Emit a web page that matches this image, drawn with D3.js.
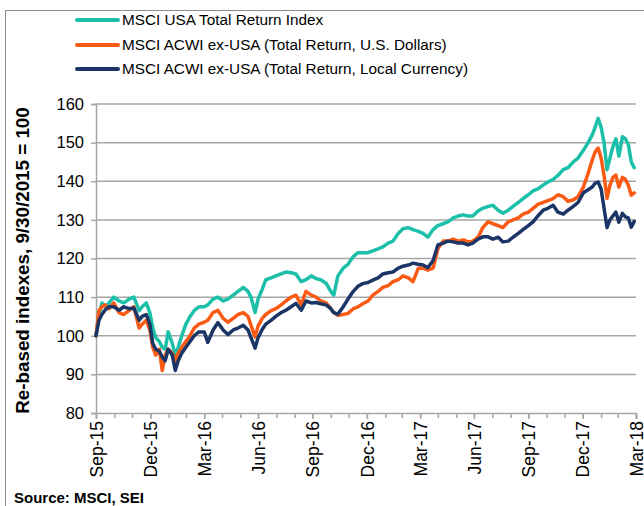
<!DOCTYPE html>
<html>
<head>
<meta charset="utf-8">
<script src="https://cdn.jsdelivr.net/npm/d3@7"></script>
<style>
  html, body { margin: 0; padding: 0; background: #fff; }
  svg { display: block; font-family: "Liberation Sans", Arial, sans-serif; }
</style>
</head>
<body>
<svg id="chart" width="644" height="506"></svg>
<script>
// ---- Data ----
const seriesNames = [
  "MSCI USA Total Return Index",
  "MSCI ACWI ex-USA (Total Return, U.S. Dollars)",
  "MSCI ACWI ex-USA (Total Return, Local Currency)"
];
const seriesColors = ["#1cbfa8", "#fa5a14", "#1b3666"];

const dates = [
"2015-09-30","2015-10-05","2015-10-10","2015-10-15","2015-10-22","2015-10-30","2015-11-08","2015-11-16","2015-11-25","2015-12-03",
"2015-12-12","2015-12-17","2015-12-24","2015-12-30","2016-01-04","2016-01-09","2016-01-15","2016-01-20","2016-01-25","2016-01-30",
"2016-02-06","2016-02-11","2016-02-16","2016-02-22","2016-02-29","2016-03-07","2016-03-14","2016-03-22","2016-03-31","2016-04-06",
"2016-04-15","2016-04-23","2016-05-02","2016-05-10","2016-05-19","2016-05-27","2016-06-05","2016-06-13","2016-06-18","2016-06-25",
"2016-06-30","2016-07-07","2016-07-13","2016-07-22","2016-07-30","2016-08-08","2016-08-16","2016-08-25","2016-09-02","2016-09-11",
"2016-09-19","2016-09-28","2016-10-06","2016-10-14","2016-10-23","2016-10-31","2016-11-05","2016-11-12","2016-11-21","2016-11-29",
"2016-12-08","2016-12-16","2016-12-24","2017-01-02","2017-01-10","2017-01-19","2017-01-27","2017-02-05","2017-02-13","2017-02-22",
"2017-03-02","2017-03-11","2017-03-19","2017-03-28","2017-04-05","2017-04-13","2017-04-22","2017-04-30","2017-05-09","2017-05-17",
"2017-05-26","2017-06-03","2017-06-12","2017-06-20","2017-06-28","2017-07-07","2017-07-15","2017-07-24","2017-08-01","2017-08-10",
"2017-08-18","2017-08-27","2017-09-04","2017-09-13","2017-09-21","2017-09-30","2017-10-08","2017-10-16","2017-10-25","2017-11-02",
"2017-11-11","2017-11-19","2017-11-28","2017-12-06","2017-12-15","2017-12-23","2018-01-01","2018-01-09","2018-01-16","2018-01-21",
"2018-01-26","2018-01-31","2018-02-05","2018-02-10","2018-02-15","2018-02-20","2018-02-25","2018-03-02","2018-03-08","2018-03-13",
"2018-03-18","2018-03-23","2018-03-28"
];

const usa = [
100,105,108.5,107.5,108.5,110,109,108.5,109.5,110,
106.5,107.5,108.5,106,102,99.5,98.5,97,96.5,101,
98,95,97,100,103,105,106.5,107.5,107.5,108,
109.5,110,109,109.5,110.5,111.5,112.5,111.5,110,106,
109.5,112,114.5,115,115.5,116,116.5,116.3,116,114,
114.5,115.5,114.8,114.5,113.6,111.5,110.5,115.5,117.5,118.5,
120.5,121.5,121.5,121.5,122,122.5,123,124,124.5,126.5,
127.7,128,127.5,127,126.5,125.5,127.5,128.5,129,129.5,
130.5,131,131.3,131,131,132.3,133,133.5,133.8,132.5,
131.7,132.5,133.5,134.5,135.5,136.5,137.5,138,139,139.8,
140.5,141.5,143,143.5,145,146,148,150,152,154,
156.3,154,150,143,146,149,151,146.5,151.5,151,
149.5,145,143.5
];

const acwiUsd = [
100,106.5,107.5,108,107,108.5,106,105.5,106.6,107.5,
102,103,104,101.5,97,95,96.5,91,95,96.5,
95.5,93.5,95.5,97,98.5,100,102,103,103.5,104,
106,106.6,104.5,103.5,104.5,105.5,106,105,102.7,99.7,
102.5,104.5,105.5,106.5,107,108,109,110,110.5,108,
111.5,110.5,110,109,108.5,107,106,105.3,105.5,105.8,
107,107.5,108.3,109,110.5,111.5,112.5,113,114,114.5,
115.5,115,114,117.5,117.5,117,117.5,122.5,124.5,124.5,
125,124.5,124.8,124.3,124.5,125.5,128,129.5,129,128.5,
128,129.5,130,130.5,131.5,132,133,134,134.5,135,
135.5,136.5,136,134.8,135.2,136,138.5,142,145.5,147.6,
148.6,146,141.5,135.6,139,141,141.6,138.5,141,140.5,
139,136.4,137
];

const acwiLocal = [
100,104,105.5,106.6,107.5,107.5,106.6,107.5,107,107.2,
104,105,105.5,103,98,96.5,96,94.5,93.5,96.5,
95,91,93.5,95.5,97,98.5,100,101,101,98.3,
101.5,103.4,101.5,100.3,101.5,102,102.7,101.5,99.5,96.8,
99.5,101.6,103,104,105,106,106.6,107.5,108.4,106.6,
109,108.5,108.6,108.3,108,107,106,105.6,107.5,109.5,
111.5,112.8,113.5,113.8,114.4,115,116,116.3,116.5,117.5,
118,118.3,118.8,118.5,118.3,117.6,119.5,123.5,124,124.5,
124.3,124,124,123.5,124,125,125.6,125.6,125,125.5,
124.3,124.5,125.5,126.5,127.5,128.5,129.5,131,132.5,133,
133.8,132,131.5,132.5,133.5,134.5,137,137.8,138.5,139.5,
139.8,138,133,128,130,131,132,129.4,131.7,130.8,
130.5,128.1,129.6
];

const yTicks = [80, 90, 100, 110, 120, 130, 140, 150, 160];
const xTickDates = ["2015-09-30","2015-12-31","2016-03-31","2016-06-30","2016-09-30","2016-12-31",
                    "2017-03-31","2017-06-30","2017-09-30","2017-12-31","2018-03-31"];
const xTickLabels = ["Sep-15","Dec-15","Mar-16","Jun-16","Sep-16","Dec-16",
                     "Mar-17","Jun-17","Sep-17","Dec-17","Mar-18"];
const yTitle = "Re-based indexes, 9/30/2015 = 100";
const sourceText = "Source: MSCI, SEI";

// ---- Drawing ----
const parse = d3.timeParse("%Y-%m-%d");
const svg = d3.select("#chart");
const plotL = 96, plotR = 636, plotT = 104, plotB = 413;

const x = d3.scaleTime()
  .domain([parse("2015-09-30"), parse("2018-03-31")])
  .range([plotL, plotR]);
const y = d3.scaleLinear().domain([80, 160]).range([plotB, plotT]);

// outer frame
svg.append("rect")
  .attr("x", 5.5).attr("y", 10.5)
  .attr("width", 660).attr("height", 520)
  .attr("fill", "none").attr("stroke", "#8c8c8c").attr("stroke-width", 1);

// gridlines
svg.append("g")
  .selectAll("line").data(yTicks.filter(v => v > 80)).join("line")
  .attr("x1", plotL).attr("x2", plotR)
  .attr("y1", d => y(d)).attr("y2", d => y(d))
  .attr("stroke", "#a6a6a6").attr("stroke-width", 1.5);

// y axis
const yAxis = svg.append("g")
  .attr("transform", `translate(${plotL},0)`)
  .call(d3.axisLeft(y).tickValues(yTicks).tickSize(5).tickPadding(7).tickFormat(d3.format("d")));
yAxis.select(".domain").attr("stroke", "#a6a6a6").attr("stroke-width", 1.5);
yAxis.selectAll(".tick line").attr("stroke", "#a6a6a6").attr("stroke-width", 1.5);
yAxis.selectAll("text").attr("font-size", 16.5).attr("fill", "#000")
  .attr("font-family", "Liberation Sans, Arial, sans-serif");

// x axis: minor (monthly) ticks
const monthEnds = d3.timeMonth.range(parse("2015-10-01"), parse("2018-04-02"))
  .map(d => d3.timeDay.offset(d, -1));
svg.append("g")
  .attr("transform", `translate(0,${plotB})`)
  .call(d3.axisBottom(x).tickValues(monthEnds).tickSize(5).tickFormat(""))
  .call(g => g.select(".domain").remove())
  .selectAll(".tick line").attr("stroke", "#a6a6a6").attr("stroke-width", 1.5);

const xAxis = svg.append("g")
  .attr("transform", `translate(0,${plotB})`)
  .call(d3.axisBottom(x).tickValues(xTickDates.map(parse)).tickSize(6)
        .tickFormat((d, i) => xTickLabels[i]));
xAxis.select(".domain").attr("stroke", "#a6a6a6").attr("stroke-width", 1.5);
xAxis.selectAll(".tick line").attr("stroke", "#a6a6a6").attr("stroke-width", 1.5);
xAxis.selectAll("text")
  .attr("font-size", 17.5).attr("fill", "#000")
  .attr("font-family", "Liberation Sans, Arial, sans-serif")
  .attr("text-anchor", "end")
  .attr("transform", "rotate(-90)")
  .attr("x", -8).attr("y", 0).attr("dy", "0.35em");

// series lines
const allSeries = [usa, acwiUsd, acwiLocal];
const line = d3.line()
  .x((d, i) => x(parse(dates[i])))
  .y(d => y(d));
svg.append("g").selectAll("path").data(allSeries).join("path")
  .attr("d", d => line(d))
  .attr("fill", "none")
  .attr("stroke", (d, i) => seriesColors[i])
  .attr("stroke-width", 3.5)
  .attr("stroke-linejoin", "round")
  .attr("stroke-linecap", "round");

// legend
const legend = svg.append("g");
const legY = [20, 45, 69];
seriesNames.forEach((name, i) => {
  legend.append("line")
    .attr("x1", 77).attr("x2", 118)
    .attr("y1", legY[i]).attr("y2", legY[i])
    .attr("stroke", seriesColors[i]).attr("stroke-width", 4)
    .attr("stroke-linecap", "round");
  legend.append("text")
    .attr("x", 122).attr("y", legY[i]).attr("dy", "0.35em")
    .attr("font-size", 15.3).attr("fill", "#000")
    .text(name);
});

// y axis title
svg.append("text")
  .attr("transform", `translate(29,${(plotT + plotB) / 2 + 2}) rotate(-90)`)
  .attr("text-anchor", "middle")
  .attr("font-size", 18.8).attr("font-weight", "bold").attr("fill", "#000")
  .text(yTitle);

// source
svg.append("text")
  .attr("x", 14).attr("y", 503)
  .attr("font-size", 15).attr("font-weight", "bold").attr("fill", "#000")
  .text(sourceText);
</script>
</body>
</html>
